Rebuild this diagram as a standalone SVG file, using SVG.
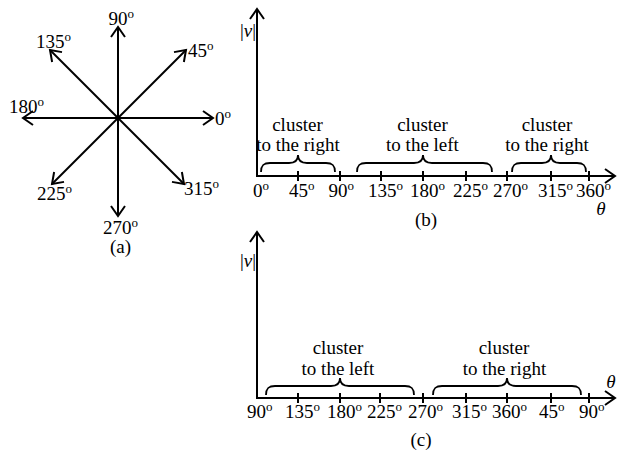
<svg xmlns="http://www.w3.org/2000/svg" width="623" height="452" viewBox="0 0 623 452">
<style>
text{font-family:"Liberation Serif","Times New Roman",serif;font-size:19px;fill:#000}
.sup{font-size:13px}
.it{font-style:italic}
.ln{stroke:#000;stroke-width:2;fill:none}
.br{stroke:#000;stroke-width:1.8;fill:none}
</style>
<defs>
<marker id="ah" markerUnits="userSpaceOnUse" markerWidth="20" markerHeight="20" viewBox="-12 -10 14 20" refX="0" refY="0" orient="auto">
<path d="M-10,-7 L0,0 L-10,7" fill="none" stroke="#000" stroke-width="2"/>
</marker>
</defs>
<rect width="623" height="452" fill="#fff"/>

<g id="panel-a">
<g id="a-arrows">
<line class="ln" x1="118" y1="118" x2="118" y2="27" marker-end="url(#ah)"/>
<line class="ln" x1="118" y1="118" x2="118" y2="216" marker-end="url(#ah)"/>
<line class="ln" x1="118" y1="118" x2="23" y2="118" marker-end="url(#ah)"/>
<line class="ln" x1="118" y1="118" x2="213" y2="118" marker-end="url(#ah)"/>
<line class="ln" x1="118" y1="118" x2="186" y2="50" marker-end="url(#ah)"/>
<line class="ln" x1="118" y1="118" x2="50" y2="50" marker-end="url(#ah)"/>
<line class="ln" x1="118" y1="118" x2="52" y2="184" marker-end="url(#ah)"/>
<line class="ln" x1="118" y1="118" x2="184" y2="184" marker-end="url(#ah)"/>
</g>
<text x="108.5" y="25">90<tspan class="sup" dy="-7">o</tspan></text>
<text x="36" y="48">135<tspan class="sup" dy="-7">o</tspan></text>
<text x="188" y="57">45<tspan class="sup" dy="-7">o</tspan></text>
<text x="9" y="113">180<tspan class="sup" dy="-7">o</tspan></text>
<text x="215" y="125">0<tspan class="sup" dy="-7">o</tspan></text>
<text x="37" y="200">225<tspan class="sup" dy="-7">o</tspan></text>
<text x="184" y="195">315<tspan class="sup" dy="-7">o</tspan></text>
<text x="103" y="234">270<tspan class="sup" dy="-7">o</tspan></text>
<text x="120.5" y="253" text-anchor="middle">(a)</text>
</g>

<g id="panel-b">
<g id="b-axes">
<line class="ln" x1="257" y1="177" x2="257" y2="9" marker-end="url(#ah)"/>
<line class="ln" x1="256" y1="176" x2="615" y2="176" marker-end="url(#ah)"/>
<path class="ln" d="M298,171V181M340,171V181M381,171V181M423,171V181M466,171V181M507,171V181M551,171V181M589,171V181"/>
</g>
<g id="b-braces">
<path class="br" d="M261,172 C261,166 263,163 270,163 H289 C295,163 298,160 298,155 C298,160 301,163 307,163 H326 C333,163 335,166 335,172"/>
<path class="br" d="M357,172 C357,166 359,163 366,163 H414 C420,163 423,160 423,155 C423,160 426,163 432,163 H483 C490,163 492,166 492,172"/>
<path class="br" d="M512,172 C512,166 514,163 521,163 H542 C548,163 551,160 551,155 C551,160 554,163 560,163 H577 C584,163 586,166 586,172"/>
</g>
<text x="240" y="37">|<tspan class="it">v</tspan>|</text>
<text x="297.5" y="131" text-anchor="middle">cluster</text>
<text x="298" y="151" text-anchor="middle">to the right</text>
<text x="422.5" y="131" text-anchor="middle">cluster</text>
<text x="422.5" y="151" text-anchor="middle">to the left</text>
<text x="547" y="131" text-anchor="middle">cluster</text>
<text x="547" y="151" text-anchor="middle">to the right</text>
<text x="253" y="197">0<tspan class="sup" dy="-7">o</tspan></text>
<text x="289" y="197">45<tspan class="sup" dy="-7">o</tspan></text>
<text x="328.5" y="197">90<tspan class="sup" dy="-7">o</tspan></text>
<text x="368" y="197">135<tspan class="sup" dy="-7">o</tspan></text>
<text x="410" y="197">180<tspan class="sup" dy="-7">o</tspan></text>
<text x="453" y="197">225<tspan class="sup" dy="-7">o</tspan></text>
<text x="493" y="197">270<tspan class="sup" dy="-7">o</tspan></text>
<text x="538" y="197">315<tspan class="sup" dy="-7">o</tspan></text>
<text x="576" y="197">360<tspan class="sup" dy="-7">o</tspan></text>
<text class="it" x="601" y="215" text-anchor="middle">θ</text>
<text x="426" y="226" text-anchor="middle">(b)</text>
</g>

<g id="panel-c">
<g id="c-axes">
<line class="ln" x1="257" y1="399" x2="257" y2="232" marker-end="url(#ah)"/>
<line class="ln" x1="256" y1="398" x2="615" y2="398" marker-end="url(#ah)"/>
<path class="ln" d="M298,393V403M340,393V403M380,393V403M423,393V403M466,393V403M507,393V403M551,393V403M589,393V403"/>
</g>
<g id="c-braces">
<path class="br" d="M266,395 C266,389 268,386 275,386 H331 C337,386 340,383 340,378 C340,383 343,386 349,386 H405 C412,386 414,389 414,395"/>
<path class="br" d="M433,395 C433,389 435,386 442,386 H498 C504,386 507,383 507,378 C507,383 510,386 516,386 H572 C579,386 581,389 581,395"/>
</g>
<text x="240" y="267">|<tspan class="it">v</tspan>|</text>
<text x="338" y="354" text-anchor="middle">cluster</text>
<text x="338" y="375" text-anchor="middle">to the left</text>
<text x="504" y="354" text-anchor="middle">cluster</text>
<text x="504.5" y="375" text-anchor="middle">to the right</text>
<text x="247" y="418">90<tspan class="sup" dy="-7">o</tspan></text>
<text x="285" y="418">135<tspan class="sup" dy="-7">o</tspan></text>
<text x="327" y="418">180<tspan class="sup" dy="-7">o</tspan></text>
<text x="367" y="418">225<tspan class="sup" dy="-7">o</tspan></text>
<text x="408" y="418">270<tspan class="sup" dy="-7">o</tspan></text>
<text x="452" y="418">315<tspan class="sup" dy="-7">o</tspan></text>
<text x="492" y="418">360<tspan class="sup" dy="-7">o</tspan></text>
<text x="539" y="418">45<tspan class="sup" dy="-7">o</tspan></text>
<text x="579" y="418">90<tspan class="sup" dy="-7">o</tspan></text>
<text class="it" x="611" y="388" text-anchor="middle">θ</text>
<text x="421" y="446" text-anchor="middle">(c)</text>
</g>
</svg>
